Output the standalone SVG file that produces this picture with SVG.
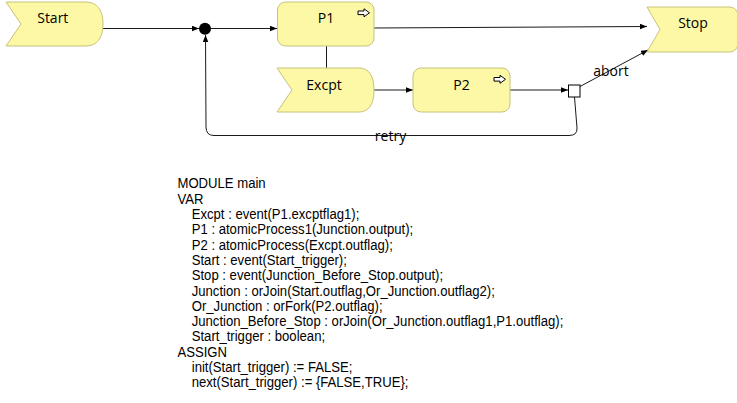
<svg xmlns="http://www.w3.org/2000/svg" width="737" height="403" viewBox="0 0 737 403">
<style>
.shape{fill:#fdf8a6;stroke:#c8c27c;stroke-width:1}
.lbl{font-family:"Open Sans","Noto Sans",sans-serif;font-size:14px;fill:#000;text-anchor:middle}
.conn{fill:none;stroke:#1a1a1a;stroke-width:1}
.icon{fill:#fff;stroke:#000;stroke-width:1}
.code{font-family:"Liberation Sans",Arial,sans-serif;font-size:14.2px;fill:#000}
</style>
<defs>
<marker id="arr" markerUnits="userSpaceOnUse" markerWidth="7" markerHeight="6" refX="7" refY="2.75" orient="auto">
<path d="M0,0 L7,2.75 L0,5.5 Z" fill="#000"/>
</marker>
</defs>
<rect width="737" height="403" fill="#fff"/>

<g id="connectors">
<path class="conn" d="M103,28.5 H199" marker-end="url(#arr)"/>
<path class="conn" d="M211,28.5 H277" marker-end="url(#arr)"/>
<path class="conn" d="M374,28 L647,26.5" marker-end="url(#arr)"/>
<path class="conn" d="M326.5,46 V68"/>
<path class="conn" d="M374,90 H413" marker-end="url(#arr)"/>
<path class="conn" d="M510,90 H568" marker-end="url(#arr)"/>
<path class="conn" d="M580,86.5 L648,50" marker-end="url(#arr)"/>
<path class="conn" d="M574.5,97 L577,128 Q577.5,135.5 569,135.5 H214 Q206,135.5 206,127 L205.5,35" marker-end="url(#arr)"/>
<text class="lbl" x="611" y="75.5">abort</text>
<text class="lbl" x="390.5" y="141">retry</text>
</g>

<g id="Start">
<path class="shape" d="M6,2 H86 C97,2 103,10 103,24 C103,38 97,46 86,46 H6 L21,24 Z"/>
<text class="lbl" x="52.8" y="23.3">Start</text>
</g>

<g id="Junction">
<circle cx="205" cy="28.8" r="6" fill="#000"/>
</g>

<g id="P1">
<rect class="shape" x="277.5" y="2" width="96.5" height="44" rx="8"/>
<text class="lbl" x="326" y="23.3">P1</text>
<path class="icon" d="M358,11 H364 V8.8 L369.5,12.8 L364,16.8 V14.6 H358 Z"/>
</g>

<g id="Excpt">
<path class="shape" d="M277,68 H359 C369,68 374,76 374,90 C374,104 369,112 359,112 H277 L292,90 Z"/>
<text class="lbl" x="324" y="90">Excpt</text>
</g>

<g id="P2">
<rect class="shape" x="413" y="68" width="97" height="44" rx="8"/>
<text class="lbl" x="461.5" y="90">P2</text>
<path class="icon" d="M494,77.5 H500 V75.3 L505.5,79.3 L500,83.3 V81.1 H494 Z"/>
</g>

<g id="Or_Junction">
<rect x="568.5" y="85" width="11.5" height="12" fill="#fff" stroke="#000" stroke-width="1"/>
</g>

<g id="Stop">
<path class="shape" d="M647,7 H729 C735,7 738,11 738,17 V42 C738,48 735,52 729,52 H647 L660,29.5 Z"/>
<text class="lbl" x="693" y="28">Stop</text>
</g>

<g id="code" class="code" transform="scale(0.924,1)">
<text x="192.1" y="188.5">MODULE main</text>
<text x="192.1" y="203.8">VAR</text>
<text x="207.5" y="219.1">Excpt : event(P1.excptflag1);</text>
<text x="207.5" y="234.4">P1 : atomicProcess1(Junction.output);</text>
<text x="207.5" y="249.7">P2 : atomicProcess(Excpt.outflag);</text>
<text x="207.5" y="265">Start : event(Start_trigger);</text>
<text x="207.5" y="280.3">Stop : event(Junction_Before_Stop.output);</text>
<text x="207.5" y="295.6">Junction : orJoin(Start.outflag,Or_Junction.outflag2);</text>
<text x="207.5" y="310.9">Or_Junction : orFork(P2.outflag);</text>
<text x="207.5" y="326.2">Junction_Before_Stop : orJoin(Or_Junction.outflag1,P1.outflag);</text>
<text x="207.5" y="341.5">Start_trigger : boolean;</text>
<text x="192.1" y="356.8">ASSIGN</text>
<text x="207.5" y="372.1">init(Start_trigger) := FALSE;</text>
<text x="207.5" y="387.4">next(Start_trigger) := {FALSE,TRUE};</text>
</g>
</svg>
